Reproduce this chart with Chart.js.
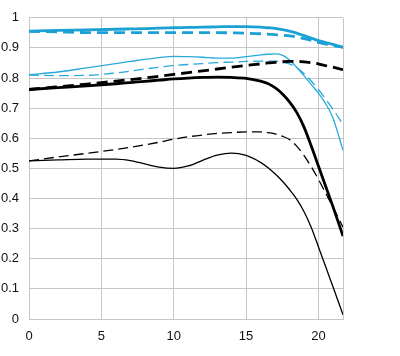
<!DOCTYPE html>
<html>
<head>
<meta charset="utf-8">
<script src="https://cdn.jsdelivr.net/npm/chart.js@4/dist/chart.umd.min.js"></script>
<style>
  html, body { margin: 0; padding: 0; background: #fff; }
  #wrap { width: 400px; height: 356px; position: relative; }
</style>
</head>
<body>
<div id="wrap"><canvas id="c"></canvas></div>
<script>
// Image height (mm) positions
const imageHeight = [0, 2, 4, 6, 7, 8, 9, 10, 11, 12, 13, 14, 15, 16, 16.5, 17, 17.5, 18, 18.5, 19, 19.5, 20, 20.5, 21, 21.7];

// 10 lp/mm (blue, thick)
const blueThickSolid  = [0.956, 0.958, 0.960, 0.962, 0.963, 0.964, 0.966, 0.967, 0.968, 0.969, 0.970, 0.971, 0.971, 0.969, 0.967, 0.965, 0.961, 0.956, 0.949, 0.941, 0.933, 0.924, 0.918, 0.912, 0.902];
const blueThickDashed = [0.955, 0.953, 0.951, 0.951, 0.951, 0.951, 0.951, 0.951, 0.951, 0.951, 0.951, 0.950, 0.949, 0.947, 0.946, 0.944, 0.942, 0.940, 0.936, 0.931, 0.925, 0.918, 0.913, 0.908, 0.902];
// 30 lp/mm (blue, thin)
const blueThinSolid   = [0.811, 0.820, 0.834, 0.848, 0.855, 0.862, 0.868, 0.872, 0.871, 0.869, 0.866, 0.866, 0.871, 0.877, 0.879, 0.880, 0.876, 0.860, 0.836, 0.808, 0.779, 0.750, 0.715, 0.668, 0.560];
const blueThinDashed  = [0.810, 0.808, 0.809, 0.817, 0.823, 0.830, 0.836, 0.842, 0.845, 0.848, 0.851, 0.853, 0.855, 0.856, 0.856, 0.856, 0.853, 0.847, 0.835, 0.815, 0.790, 0.762, 0.730, 0.697, 0.645];
// 10 lp/mm (black, thick)
const blackThickSolid  = [0.762, 0.768, 0.774, 0.781, 0.785, 0.789, 0.793, 0.797, 0.800, 0.802, 0.803, 0.802, 0.799, 0.790, 0.782, 0.768, 0.748, 0.721, 0.686, 0.638, 0.575, 0.508, 0.441, 0.374, 0.275];
const blackThickDashed = [0.762, 0.771, 0.780, 0.790, 0.795, 0.800, 0.806, 0.812, 0.818, 0.824, 0.830, 0.836, 0.842, 0.847, 0.850, 0.852, 0.854, 0.855, 0.855, 0.854, 0.851, 0.847, 0.841, 0.836, 0.828];
// 30 lp/mm (black, thin)
const blackThinSolid  = [0.525, 0.528, 0.531, 0.531, 0.526, 0.515, 0.504, 0.500, 0.508, 0.527, 0.544, 0.551, 0.543, 0.520, 0.503, 0.482, 0.458, 0.430, 0.398, 0.357, 0.305, 0.240, 0.174, 0.108, 0.014];
const blackThinDashed = [0.525, 0.538, 0.550, 0.563, 0.570, 0.578, 0.587, 0.597, 0.605, 0.611, 0.616, 0.619, 0.621, 0.621, 0.619, 0.615, 0.607, 0.596, 0.574, 0.543, 0.506, 0.464, 0.418, 0.372, 0.305];

const xTickValues = [0, 5, 10, 15, 20];
const xMax = 21.7;
const yTickLabels = ['0', '0.1', '0.2', '0.3', '0.4', '0.5', '0.6', '0.7', '0.8', '0.9', '1'];

function pts(arr) { return arr.map((v, i) => ({ x: imageHeight[i], y: v })); }

const BLUE = '#1ba1d3';
const BLUE_THIN = '#2aaadb';
const BLACK = '#000000';

function ds(arr, color, width, dash) {
  return {
    data: pts(arr),
    borderColor: color,
    borderWidth: width,
    borderDash: dash,
    pointRadius: 0,
    fill: false,
    cubicInterpolationMode: 'monotone'
  };
}

new Chart(document.getElementById('c'), {
  type: 'line',
  data: {
    datasets: [
      ds(blackThinSolid, BLACK, 1.3, []),
      ds(blackThinDashed, BLACK, 1.3, [10, 5]),
      ds(blackThickSolid, BLACK, 2.8, []),
      ds(blackThickDashed, BLACK, 2.8, [11, 6]),
      ds(blueThinSolid, BLUE_THIN, 1.3, []),
      ds(blueThinDashed, BLUE_THIN, 1.3, [10, 5]),
      ds(blueThickSolid, BLUE, 2.8, []),
      ds(blueThickDashed, BLUE, 2.8, [11, 6])
    ]
  },
  options: {
    responsive: true,
    maintainAspectRatio: false,
    animation: false,
    layout: { padding: { left: 0, right: 57, top: 13, bottom: 0 } },
    plugins: { legend: { display: false }, tooltip: { enabled: false } },
    scales: {
      x: {
        type: 'linear',
        min: 0,
        max: xMax,
        grid: { color: '#c6c6c6', lineWidth: 1, drawTicks: false },
        border: { color: '#c6c6c6', width: 1 },
        afterBuildTicks: (s) => { s.ticks = xTickValues.concat([xMax]).map(v => ({ value: v })); },
        ticks: {
          padding: 10,
          color: '#111',
          font: { family: 'Liberation Sans', size: 13 },
          maxRotation: 0,
          autoSkip: false,
          callback: (v) => xTickValues.includes(v) ? String(v) : ''
        },
        afterFit: (s) => { s.height = 37; }
      },
      y: {
        min: 0,
        max: 1,
        grid: { color: '#c6c6c6', lineWidth: 1, drawTicks: false },
        border: { color: '#c6c6c6', width: 1 },
        ticks: {
          stepSize: 0.1,
          padding: 10,
          color: '#111',
          font: { family: 'Liberation Sans', size: 13 },
          callback: (v) => yTickLabels[Math.round(v * 10)]
        },
        afterFit: (s) => { s.width = 29; }
      }
    }
  }
});
</script>
</body>
</html>
